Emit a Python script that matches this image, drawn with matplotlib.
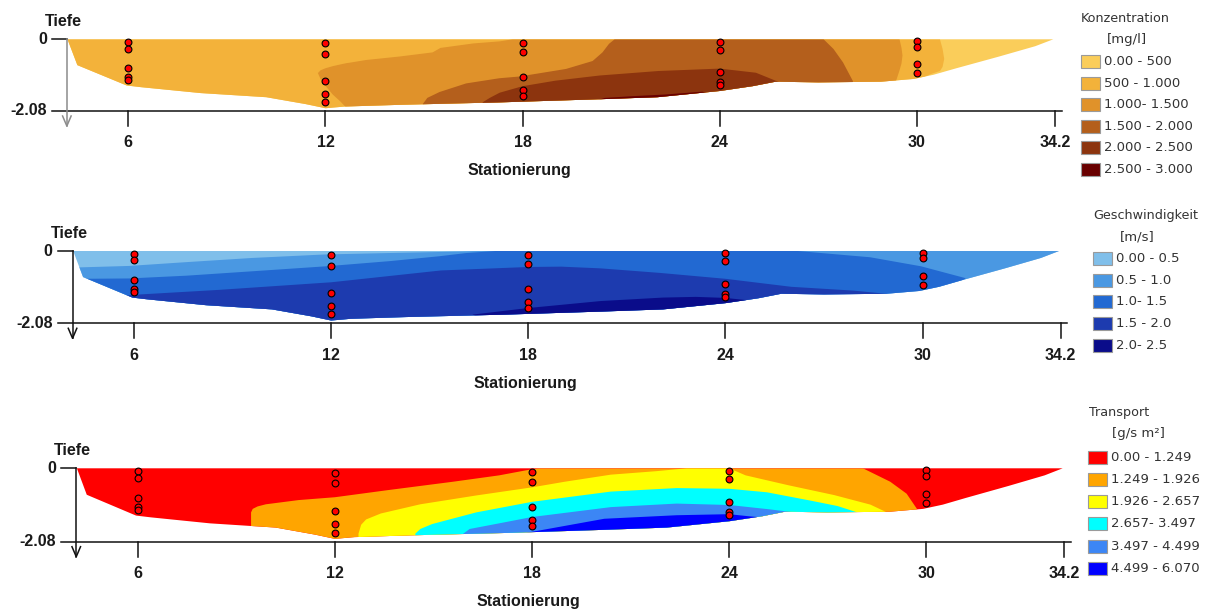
import numpy as np
import matplotlib
matplotlib.use("Agg")
import matplotlib.pyplot as plt
from matplotlib.patches import Polygon, Rectangle

# ---------------- data ----------------
stations = [6, 12, 18, 24, 30]
tick_stations = [6, 12, 18, 24, 30, 34.2]
tick_labels = ["6", "12", "18", "24", "30", "34.2"]
depth_ticks = [0, -2.08]
depth_labels = ["0", "-2.08"]

# river bed profile (station, depth)
bed_x = [4.15, 4.45, 5.95, 6.4, 8.2, 10.2, 11.4, 12.0, 12.6, 14.3, 17.3, 20.3,
         22.1, 24.0, 25.0, 25.7, 27.0, 28.9, 29.9, 30.5, 31.2, 32.5, 33.6, 34.15]
bed_d = [0.0, -0.75, -1.34, -1.39, -1.56, -1.68, -1.88, -2.0, -1.95, -1.9, -1.83, -1.74,
         -1.68, -1.5, -1.36, -1.23, -1.25, -1.23, -1.15, -1.03, -0.84, -0.5, -0.2, 0.0]

# measuring points per vertical (depths)
pts_6 = [-0.08, -0.27, -0.84, -1.1, -1.18]
pts_12 = [-0.12, -0.42, -1.21, -1.59, -1.82]
pts_18 = [-0.11, -0.38, -1.1, -1.47, -1.64]
pts_24 = [-0.07, -0.3, -0.95, -1.24, -1.33]
pts_30 = [-0.05, -0.21, -0.72, -0.98]

# --- Konzentration: extent of areas above each class limit (x, upper, lower)
conc_labels = ["0.00 - 500", "500 - 1.000", "1.000- 1.500", "1.500 - 2.000",
               "2.000 - 2.500", "2.500 - 3.000"]
conc_colors = ["#FACD5A", "#F3B23A", "#E0922A", "#B45F1C", "#8C340E", "#690000"]
c1_x = [4.0, 29.9, 30.1, 30.45, 30.7, 30.78, 30.83]
c1_top = [0.0, 0.0, 0.0, 0.0, 0.0, -0.28, -0.57]
c1_bot = [-2.5, -2.5, -1.15, -1.0, -0.92, -0.8, -0.57]
c2_x = [11.77, 11.85, 12.0, 12.22, 12.45, 12.65, 12.73, 13.24, 14.25, 15.26, 15.5,
        16.5, 17.3, 17.7, 29.35, 29.47, 29.53, 29.56]
c2_top = [-0.98, -0.9, -0.84, -0.78, -0.73, -0.69, -0.68, -0.6, -0.5, -0.38, -0.25,
          -0.12, -0.06, 0.0, 0.0, 0.0, -0.25, -0.47]
c2_bot = [-0.98, -1.15, -1.35, -1.6, -1.8, -2.0, -2.5, -2.5, -2.5, -2.5, -2.5,
          -2.5, -2.5, -2.5, -1.25, -0.9, -0.7, -0.47]
c3_x = [14.96, 15.1, 15.47, 16.28, 17.29, 17.9, 19.32, 20.13, 20.43, 20.63, 20.8,
        27.16, 27.46, 27.75, 28.05]
c3_top = [-1.88, -1.7, -1.53, -1.28, -1.13, -1.08, -0.86, -0.63, -0.38, -0.13, 0.0,
          0.0, -0.28, -0.67, -1.21]
c3_bot = [-1.88, -2.5, -2.5, -2.5, -2.5, -2.5, -2.5, -2.5, -2.5, -2.5, -2.5,
          -2.5, -1.7, -1.45, -1.25]
c4_x = [16.78, 17.0, 17.3, 18.0, 19.0, 20.35, 22.13, 24.0, 25.1, 25.8]
c4_top = [-1.83, -1.7, -1.55, -1.36, -1.2, -1.05, -0.92, -0.85, -0.97, -1.24]
c4_bot = [-1.83, -2.5, -2.5, -2.5, -2.5, -2.5, -2.5, -2.5, -1.6, -1.24]
c5_x = [20.3, 20.5, 21.35, 22.36, 23.47, 23.6]
c5_top = [-1.76, -1.7, -1.65, -1.6, -1.52, -1.56]
c5_bot = [-1.76, -2.5, -2.5, -2.5, -2.0, -1.56]

# --- Geschwindigkeit
velo_labels = ["0.00 - 0.5", "0.5 - 1.0", "1.0- 1.5", "1.5 - 2.0", "2.0- 2.5"]
velo_colors = ["#80BFEA", "#4A98E2", "#2269D2", "#1D3BAF", "#0A0C8A"]
v1_x = [4.0, 4.4, 5.85, 7.6, 9.6, 11.8, 13.7, 16.0, 16.5, 35.0]
v1_top = [-0.47, -0.47, -0.43, -0.32, -0.2, -0.1, -0.06, -0.015, 0.0, 0.0]
v1_bot = [-2.5, -2.5, -2.5, -2.5, -2.5, -2.5, -2.5, -2.5, -2.5, -2.5]
v2_x = [4.0, 4.4, 5.85, 7.6, 9.5, 11.85, 13.8, 15.3, 16.1, 17.0, 26.2, 28.4, 29.95, 31.3]
v2_top = [-0.8, -0.8, -0.79, -0.71, -0.59, -0.44, -0.29, -0.15, -0.06, 0.0, 0.0,
          -0.18, -0.44, -0.78]
v2_bot = [-2.5, -2.5, -2.5, -2.5, -2.5, -2.5, -2.5, -2.5, -2.5, -2.5, -2.5,
          -2.5, -1.5, -0.8]
v3_x = [5.6, 6.0, 8.56, 12.0, 15.34, 18.0, 19.0, 20.2, 22.0, 24.0, 26.0, 27.9, 29.1]
v3_top = [-1.3, -1.26, -1.12, -0.9, -0.56, -0.46, -0.45, -0.5, -0.63, -0.8, -1.03,
          -1.14, -1.25]
v3_bot = [-1.3, -2.5, -2.5, -2.5, -2.5, -2.5, -2.5, -2.5, -2.5, -2.5, -2.5, -2.5, -1.25]
v4_x = [16.3, 18.0, 20.2, 22.1, 23.1, 24.0, 24.7]
v4_top = [-1.83, -1.64, -1.44, -1.34, -1.32, -1.35, -1.42]
v4_bot = [-1.83, -2.5, -2.5, -2.5, -2.5, -1.8, -1.42]

# --- Transport
trans_labels = ["0.00 - 1.249", "1.249 - 1.926", "1.926 - 2.657", "2.657- 3.497",
                "3.497 - 4.499", "4.499 - 6.070"]
trans_colors = ["#FF0000", "#FFA500", "#FFFF00", "#00FFFF", "#3C86F5", "#0000FF"]
t1_x = [9.45, 9.5, 9.65, 9.9, 10.9, 12.0, 13.6, 15.6, 17.0, 17.8, 18.2, 28.07, 28.9,
        29.4, 29.75]
t1_top = [-1.25, -1.15, -1.08, -1.02, -0.9, -0.82, -0.62, -0.38, -0.2, -0.06, 0.0, 0.0,
          -0.38, -0.72, -1.2]
t1_bot = [-2.5, -2.5, -2.5, -2.5, -2.5, -2.5, -2.5, -2.5, -2.5, -2.5, -2.5, -2.5, -2.5,
          -1.5, -1.2]
t2_x = [12.72, 12.8, 12.95, 13.4, 14.6, 16.3, 18.0, 19.0, 20.4, 21.8, 22.7, 24.0, 24.5,
        25.8, 27.2, 28.3, 28.8]
t2_top = [-1.85, -1.6, -1.45, -1.28, -1.02, -0.77, -0.54, -0.38, -0.18, -0.08, 0.0, 0.0,
          -0.2, -0.48, -0.76, -1.03, -1.25]
t2_bot = [-2.5, -2.5, -2.5, -2.5, -2.5, -2.5, -2.5, -2.5, -2.5, -2.5, -2.5, -2.5, -2.5,
          -2.5, -2.5, -1.6, -1.25]
t3_x = [14.45, 14.6, 14.96, 16.3, 18.0, 20.4, 22.4, 24.0, 25.15, 26.5, 27.3, 27.9]
t3_top = [-1.85, -1.72, -1.58, -1.25, -0.95, -0.66, -0.56, -0.58, -0.68, -0.92, -1.07, -1.25]
t3_bot = [-2.5, -2.5, -2.5, -2.5, -2.5, -2.5, -2.5, -2.5, -2.5, -2.5, -1.6, -1.25]
t4_x = [15.9, 16.1, 17.0, 18.0, 20.4, 22.4, 24.0, 25.2, 25.9]
t4_top = [-1.86, -1.72, -1.56, -1.38, -1.1, -1.0, -1.04, -1.16, -1.24]
t4_bot = [-2.5, -2.5, -2.5, -2.5, -2.5, -2.5, -2.5, -1.6, -1.24]
t5_x = [17.7, 18.0, 20.2, 22.4, 24.0, 24.6, 25.1]
t5_top = [-1.86, -1.8, -1.43, -1.33, -1.3, -1.36, -1.4]
t5_bot = [-2.5, -2.5, -2.5, -2.5, -2.5, -1.7, -1.4]

# ---------------- layout ----------------
W, H = 1213, 609
SX = 32.86
AXIS_X = 4.13
FONT = "Liberation Sans"

panels = [
    dict(x6=128.3, y0=39.3, sy=34.47, ycol="#8c8c8c",
         colors=conc_colors, labels=conc_labels,
         lenses=[(c1_x, c1_top, c1_bot), (c2_x, c2_top, c2_bot), (c3_x, c3_top, c3_bot),
                 (c4_x, c4_top, c4_bot), (c5_x, c5_top, c5_bot)],
         title="Konzentration", unit="[mg/l]",
         leg=dict(tx=1081, ty=18.3, ux=1107, uy=40, px=1081, rows0=61.7, dy=21.5, lx=1104)),
    dict(x6=134.0, y0=251.0, sy=34.76, ycol="#111111",
         colors=velo_colors, labels=velo_labels,
         lenses=[(v1_x, v1_top, v1_bot), (v2_x, v2_top, v2_bot), (v3_x, v3_top, v3_bot),
                 (v4_x, v4_top, v4_bot)],
         title="Geschwindigkeit", unit="[m/s]",
         leg=dict(tx=1093, ty=215, ux=1120, uy=236.7, px=1093, rows0=258.3, dy=21.7, lx=1116)),
    dict(x6=137.7, y0=468.3, sy=35.29, ycol="#111111",
         colors=trans_colors, labels=trans_labels,
         lenses=[(t1_x, t1_top, t1_bot), (t2_x, t2_top, t2_bot), (t3_x, t3_top, t3_bot),
                 (t4_x, t4_top, t4_bot), (t5_x, t5_top, t5_bot)],
         title="Transport", unit="[g/s m\u00b2]",
         leg=dict(tx=1089, ty=412.7, ux=1112, uy=433, px=1088, rows0=457.3, dy=22.2, lx=1111)),
]

fig = plt.figure(figsize=(W / 100, H / 100), dpi=100)
fig.patch.set_facecolor("white")

XMIN, XMAX, YMIN, YMAX = 2.0, 36.0, -2.7, 0.3
pts_all = [pts_6, pts_12, pts_18, pts_24, pts_30]

for p in panels:
    sy = p["sy"]
    left_px = p["x6"] + (XMIN - 6) * SX
    top_px = p["y0"] - YMAX * sy
    w_px = (XMAX - XMIN) * SX
    h_px = (YMAX - YMIN) * sy
    ax = fig.add_axes([left_px / W, 1 - (top_px + h_px) / H, w_px / W, h_px / H])
    ax.set_xlim(XMIN, XMAX)
    ax.set_ylim(YMIN, YMAX)
    ax.axis("off")
    ax.patch.set_alpha(0)

    # water cross section, lowest class
    section = Polygon(np.column_stack([bed_x, bed_d]), closed=True,
                      facecolor=p["colors"][0], edgecolor="none", zorder=1)
    ax.add_patch(section)
    for (lx, lt, lb), col in zip(p["lenses"], p["colors"][1:]):
        coll = ax.fill_between(lx, lt, lb, facecolor=col, edgecolor="none",
                               linewidth=0, zorder=2)
        coll.set_clip_path(section)

    # measuring points
    for s, dd in zip(stations, pts_all):
        ax.plot([s] * len(dd), dd, "o", ms=4.9, mfc="#FF0000", mec="black",
                mew=0.8, zorder=5, clip_on=False)

    # axes drawing
    tick_len_x = 15 / SX
    tick_len_y = 15 / sy
    tip = -2.08 - 15 / sy
    ax.plot([AXIS_X, AXIS_X], [0, tip], color=p["ycol"], lw=1.1, clip_on=False, zorder=6)
    ax.plot([AXIS_X - 0.13, AXIS_X, AXIS_X + 0.13], [tip + 10 / sy, tip, tip + 10 / sy],
            color=p["ycol"], lw=1.1, clip_on=False, zorder=6)
    ax.plot([AXIS_X - tick_len_x, AXIS_X], [0, 0], color="#111111", lw=1.1, clip_on=False)
    ax.plot([AXIS_X - tick_len_x, 34.4], [-2.08, -2.08], color="#111111", lw=1.1,
            clip_on=False)
    for t, lab in zip(tick_stations, tick_labels):
        ax.plot([t, t], [-2.08, -2.08 - tick_len_y], color="#111111", lw=1.1, clip_on=False)
        ax.text(t, -2.08 - 32 / sy, lab, ha="center", va="center", fontsize=11.5,
                fontweight="bold", family=FONT, color="#1a1a1a")
    for d, lab in zip(depth_ticks, depth_labels):
        ax.text(AXIS_X - 20 / SX, d, lab, ha="right", va="center", fontsize=11.5,
                fontweight="bold", family=FONT, color="#1a1a1a")
    ax.text(4.02, 17.6 / sy, "Tiefe", ha="center", va="center", fontsize=11.5,
            fontweight="bold", family=FONT, color="#1a1a1a")
    ax.text(17.9, -2.08 - 60 / sy, "Stationierung", ha="center", va="center",
            fontsize=11.5, fontweight="bold", family=FONT, color="#1a1a1a")

    # legend
    lg = p["leg"]
    fig.text(lg["tx"] / W, 1 - lg["ty"] / H, p["title"], ha="left", va="center",
             fontsize=9.2, family="DejaVu Sans", color="#333333")
    fig.text(lg["ux"] / W, 1 - lg["uy"] / H, p["unit"], ha="left", va="center",
             fontsize=9.5, family="DejaVu Sans", color="#333333")
    for i, (col, lab) in enumerate(zip(p["colors"], p["labels"])):
        cy = lg["rows0"] + i * lg["dy"]
        fig.add_artist(Rectangle((lg["px"] / W, 1 - (cy + 6.5) / H), 19 / W, 13 / H,
                                 transform=fig.transFigure, facecolor=col,
                                 edgecolor="#9a9a9a", lw=0.8))
        fig.text(lg["lx"] / W, 1 - cy / H, lab, ha="left", va="center",
                 fontsize=9.5, family="DejaVu Sans", color="#333333")

fig.savefig("out.png", dpi=100, facecolor="white")
